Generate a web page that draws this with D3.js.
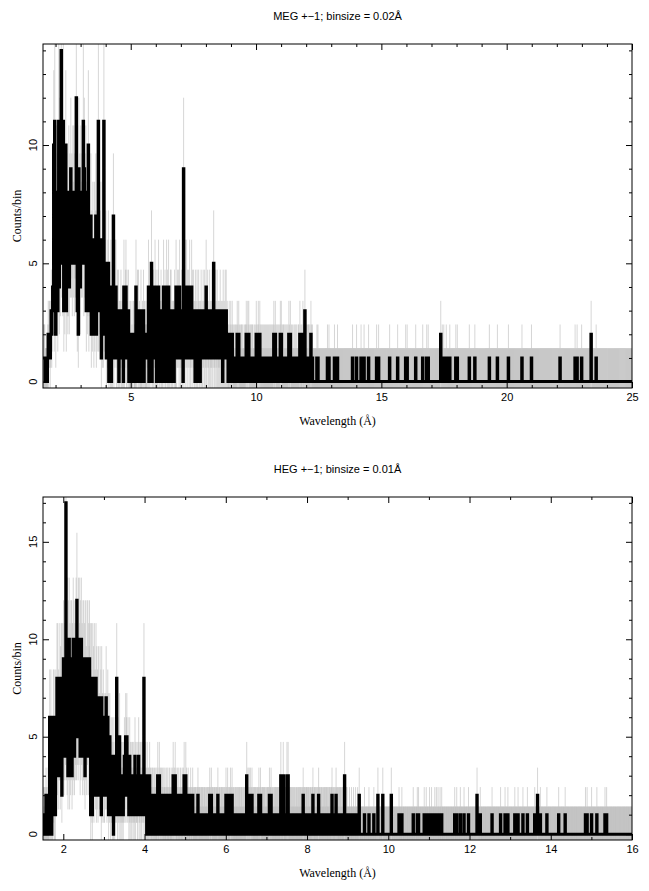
<!DOCTYPE html>
<html><head><meta charset="utf-8">
<script src="https://cdn.jsdelivr.net/npm/d3@7"></script>
<style>body{margin:0;background:#fff}</style>
</head><body><svg id="c" width="649" height="891" xmlns="http://www.w3.org/2000/svg"></svg>
<script>
// ---------------- DATA ----------------
// MEG +-1, bin 0.02 A starting at 1.50 A (counts per bin, dense part up to 12.30 A)
const megStart = 1.5, megBin = 0.02, megEnd = 25;
const megDense = [
1,1,1,1,0, 0,0,0,0,1, 2,1,2,2,1, 2,3,2,3,4, 4,10,3,11,6,
2,8,5,7,3, 6,11,4,9,5, 7,14,6,9,5, 11,3,8,4,6, 10,3,7,5,4,
5,8,4,7,6, 9,6,7,5,8, 6,8,5,7,6, 7,12,6,3,8, 2,9,5,7,4,
8,6,7,6,8, 11,5,9,6,7, 8,3,6,4,5, 10,3,7,5,4, 7,2,5,3,6,
4,2,6,3,5, 7,2,5,4,3, 11,3,6,4,5, 6,1,4,2,3, 2,11,5,3,4,
5,1,3,2,4, 5,0,2,3,1, 4,0,2,1,3, 7,1,3,2,4, 4,1,2,3,1,
3,0,2,1,2, 3,1,2,1,2, 0,4,1,2,3, 4,1,3,2,1, 3,0,1,2,0,
2,0,1,0,2, 2,0,1,1,0, 4,1,2,3,1, 3,0,2,1,0, 3,0,1,2,1,
3,0,2,1,1, 2,1,1,2,1, 4,0,2,1,3, 2,5,0,3,1, 3,1,2,4,1,
3,0,2,1,3, 4,0,2,1,2, 3,1,2,0,2, 4,1,2,3,0, 2,4,1,3,1,
4,0,2,1,3, 3,0,2,1,2, 2,0,3,1,1, 4,1,2,3,2, 3,1,4,2,1,
2,3,1,2,0, 9,2,3,1,4, 2,4,1,3,2, 3,1,4,2,1, 2,4,1,3,2,
3,1,2,0,3, 2,0,3,1,2, 3,1,2,0,2, 3,1,2,1,3, 2,1,3,1,2,
4,1,2,3,1, 2,1,3,1,2, 1,2,3,1,2, 5,1,2,1,3, 2,1,3,1,2,
1,2,1,3,1, 2,1,2,0,3, 1,2,1,3,1, 3,1,2,1,0, 1,2,0,1,2,
1,0,2,1,0, 1,0,1,0,1, 1,0,2,1,0, 2,1,0,1,0, 1,1,0,1,0,
0,1,0,1,1, 2,1,0,2,1, 2,0,1,0,1, 1,0,1,1,0, 0,1,0,1,0,
2,1,0,1,2, 1,0,2,1,0, 1,0,1,0,1, 0,1,0,1,0, 1,0,1,0,1,
0,1,0,1,0, 1,0,1,0,1, 2,0,1,2,0, 1,0,1,0,1, 0,1,0,2,1,
2,0,1,0,1, 1,0,1,0,1, 0,1,0,1,0, 2,1,0,2,0, 1,0,1,0,0,
1,0,1,0,1, 0,1,0,0,1, 1,0,2,0,1, 0,1,0,2,0, 1,0,3,1,0,
1,0,1,0,1, 1,0,1,0,2, 1,0,1,0,0
];
// MEG isolated non-zero bins beyond 12.3 A: [wavelength, counts]
const megSparse = [
[12.42,1],[12.46,1],[12.84,1],[12.90,1],[13.12,1],[13.24,1],[13.84,1],[14.00,1],
[14.18,1],[14.30,1],[14.48,1],[14.80,1],[14.88,1],[15.32,1],[15.64,1],[15.96,1],
[16.02,1],[16.36,1],[16.64,1],[16.80,1],[16.86,1],[17.36,2],[17.42,1],[17.48,1],
[17.58,1],[17.72,1],[17.96,1],[18.02,1],[18.50,1],[18.72,1],[19.30,1],[19.62,1],
[20.06,1],[20.60,1],[20.98,1],[22.12,1],[22.72,1],[22.80,1],[22.98,1],[23.36,2],[23.56,1]
];
// HEG +-1, bin 0.01 A starting at 1.50 A (dense part up to 9.00 A)
const hegStart = 1.5, hegBin = 0.01, hegEnd = 16;
const hegDense = [
1,0,1,0,1,1,0,2,1,0, 1,0,2,1,0,1,6,3,1,6, 2,0,1,3,1,6,2,6,1,4, 1,6,3,5,8,4,8,3,6,5,
5,8,3,7,5,8,2,6,8,5, 9,4,8,5,9,6,17,5,10,4, 10,3,9,5,10,3,8,4,9,5, 9,3,8,4,10,5,9,4,8,5,
6,10,5,12,6,9,5,10,6,8, 10,4,9,5,10,6,8,4,9,5, 9,4,8,3,9,5,7,4,9,6, 9,4,8,7,9,5,8,1,6,8,
2,1,8,3,7,2,8,4,6,3, 8,2,7,3,6,2,7,4,5,3, 7,3,6,1,7,2,5,3,6,2, 5,2,4,3,5,7,3,2,4,6,
5,1,4,2,5,3,1,4,2,3, 4,1,3,0,4,2,1,3,2,4, 2,8,3,1,4,2,3,1,5,2, 3,1,2,3,1,2,3,1,2,3,
4,2,3,5,2,4,5,3,2,4, 3,1,2,4,1,3,2,1,3,2, 3,1,2,3,1,2,4,1,3,2, 2,3,1,2,3,4,1,2,3,1,
3,2,1,3,2,3,1,2,8,3, 1,2,3,1,2,0,3,1,2,1, 2,1,3,0,2,1,2,1,0,2, 1,2,0,1,2,0,1,2,1,0,
2,1,3,0,1,2,3,0,1,2, 1,2,0,1,2,1,0,2,1,1, 2,0,1,1,2,0,1,2,0,1, 1,2,0,1,0,2,1,0,1,2,
3,1,0,2,1,3,1,2,0,1, 1,2,1,0,2,1,0,1,2,1, 0,1,2,1,0,2,1,3,1,0, 1,3,0,2,1,0,1,2,1,0,
1,0,1,2,1,0,1,1,2,0, 1,0,1,1,0,1,1,0,1,0, 1,2,1,0,1,1,0,1,0,1, 1,0,1,1,0,1,0,1,1,0,
1,0,1,0,1,1,0,1,0,1, 2,1,0,1,2,0,1,1,0,1, 0,1,1,0,1,0,1,1,0,1, 2,0,1,0,1,1,0,1,0,1,
1,0,1,1,0,1,0,1,1,0, 2,1,0,1,2,0,1,0,1,1, 0,2,1,0,1,2,0,1,1,0, 1,0,1,0,1,1,0,1,0,1,
1,0,1,1,0,1,0,1,1,0, 1,0,1,0,1,1,0,1,0,1, 1,3,0,1,2,1,0,2,1,0, 2,1,0,1,2,0,1,1,0,1,
1,0,1,1,0,1,0,1,1,0, 1,2,0,1,1,2,0,1,0,1, 1,0,1,1,0,1,1,0,1,0, 1,0,1,1,0,1,1,2,0,1,
1,2,0,1,1,0,1,0,1,1, 0,1,1,0,1,1,0,1,1,0, 1,1,0,1,1,3,1,0,1,1, 1,3,1,0,1,1,0,1,1,0,
3,1,1,3,1,0,1,1,0,1, 1,0,1,1,0,1,0,1,1,0, 1,0,1,0,1,1,0,1,0,1, 1,0,1,1,0,1,0,1,1,0,
2,1,0,1,1,0,1,0,1,1, 1,0,1,1,0,1,0,1,1,0, 1,0,1,1,2,0,1,0,1,1, 0,1,1,0,1,0,1,1,2,0,
1,1,0,1,0,1,1,0,1,0, 1,0,1,1,0,1,0,1,1,0, 1,0,1,0,1,1,0,1,0,1, 1,2,0,1,1,0,1,0,1,1,
0,2,1,0,1,1,0,1,0,1, 1,0,1,1,0,1,0,1,1,0, 1,0,3,1,0,1,1,0,1,0
];
const hegSparse = [
[9.04,1],[9.09,1],[9.14,1],[9.19,1],[9.24,1],[9.28,2],[9.41,1],[9.52,1],[9.64,1],
[9.74,2],[9.86,2],[10.07,2],[10.26,1],[10.33,1],[10.61,1],[10.71,1],[10.74,1],
[10.88,1],[10.93,1],[11.01,1],[11.06,1],[11.14,1],[11.18,1],[11.22,1],[11.27,1],[11.31,1],
[11.63,1],[11.68,1],[11.77,1],[11.86,1],[11.97,1],[12.18,2],[12.26,1],[12.55,1],[12.76,1],
[12.87,1],[12.94,1],[13.11,1],[13.19,1],[13.31,1],[13.42,1],[13.60,1],[13.67,2],[13.74,1],
[13.90,1],[14.19,1],[14.35,1],[14.85,1],[14.89,1],[15.00,1],[15.13,1],[15.33,1],[15.37,1]
];
// axes
const megXMajor = [5,10,15,20,25];
const megXMinor = [2,3,4,6,7,8,9,11,12,13,14,16,17,18,19,21,22,23,24];
const megYMajor = [0,5,10];
const megYMinor = [1,2,3,4,6,7,8,9,11,12,13,14];
const hegXMajor = [2,4,6,8,10,12,14,16];
const hegXMinor = [3,5,7,9,11,13,15];
const hegYMajor = [0,5,10,15];
const hegYMinor = [1,2,3,4,6,7,8,9,11,12,13,14,16,17];

// ---------------- DRAW ----------------
const svg = d3.select('#c');
const SANS = '"Liberation Sans", Arial, Helvetica, sans-serif';
const SERIF = '"Liberation Serif", "Times New Roman", serif';

function buildBins(start, bin, end, dense, sparse) {
  const n = Math.round((end - start) / bin);
  const counts = new Array(n).fill(0);
  dense.forEach((v, i) => { counts[i] = v; });
  sparse.forEach(([w, c]) => { counts[Math.round((w - start) / bin)] = c; });
  return counts.map((c, i) => ({ lo: start + i * bin, hi: start + (i + 1) * bin, c }));
}

function panel(o) {
  const L = 43, R = 632;
  const x = d3.scaleLinear().domain(o.xDomain).range([L, R]);
  const y = d3.scaleLinear().domain(o.yDomain).range([o.bottom, o.top]);
  const g = svg.append('g');
  g.append('clipPath').attr('id', o.id).append('rect')
    .attr('x', L).attr('y', o.top).attr('width', R - L).attr('height', o.bottom - o.top);
  const pg = g.append('g').attr('clip-path', `url(#${o.id})`);
  const err = c => Math.sqrt(Math.max(c, 2));
  pg.selectAll('line.e').data(o.bins).join('line').attr('class', 'e')
    .attr('x1', d => x((d.lo + d.hi) / 2)).attr('x2', d => x((d.lo + d.hi) / 2))
    .attr('y1', d => y(d.c - err(d.c))).attr('y2', d => y(d.c + err(d.c)))
    .attr('stroke', '#bbbbbb').attr('stroke-width', 0.6);
  const pts = o.bins.map(d => [d.lo, d.c]);
  const last = o.bins[o.bins.length - 1];
  pts.push([last.hi, last.c]);
  const line = d3.line().x(d => x(d[0])).y(d => y(d[1])).curve(d3.curveStepAfter);
  pg.append('path').attr('d', line(pts)).attr('fill', 'none')
    .attr('stroke', '#000').attr('stroke-width', 3).attr('stroke-linejoin', 'miter');

  // axes with inward ticks
  const mk = (gen, tr, vals, size, labels) => {
    const a = g.append('g').attr('transform', tr)
      .call(gen.tickValues(vals).tickSize(size).tickPadding(5)
        .tickFormat(labels ? d3.format('d') : ''));
    a.select('.domain').remove();
    a.selectAll('line').attr('stroke', '#000');
    a.attr('font-family', SANS).attr('font-size', 11);
    a.selectAll('text').attr('fill', '#000');
    return a;
  };
  mk(d3.axisBottom(x), `translate(0,${o.bottom})`, o.xMajor, -6, true);
  mk(d3.axisBottom(x), `translate(0,${o.bottom})`, o.xMinor, -3, false);
  mk(d3.axisTop(x), `translate(0,${o.top})`, o.xMajor, -6, false);
  mk(d3.axisTop(x), `translate(0,${o.top})`, o.xMinor, -3, false);
  mk(d3.axisLeft(y), `translate(${L},0)`, o.yMajor, -6, false);
  mk(d3.axisLeft(y), `translate(${L},0)`, o.yMinor, -3, false);
  mk(d3.axisRight(y), `translate(${R},0)`, o.yMajor, -6, false);
  mk(d3.axisRight(y), `translate(${R},0)`, o.yMinor, -3, false);
  // rotated y tick labels
  g.selectAll('text.yl').data(o.yMajor).join('text').attr('class', 'yl')
    .attr('transform', d => `translate(37,${y(d)}) rotate(-90)`)
    .attr('text-anchor', 'middle').attr('font-family', SANS).attr('font-size', 11)
    .text(d => d);
  g.append('rect').attr('x', L).attr('y', o.top).attr('width', R - L)
    .attr('height', o.bottom - o.top).attr('fill', 'none').attr('stroke', '#000').attr('stroke-width', 1);
  // titles
  g.append('text').attr('x', (L + R) / 2).attr('y', o.top - 24).attr('text-anchor', 'middle')
    .attr('font-family', SANS).attr('font-size', 11).text(o.title);
  g.append('text').attr('x', (L + R) / 2).attr('y', o.bottom + 37).attr('text-anchor', 'middle')
    .attr('font-family', SERIF).attr('font-size', 12).text('Wavelength (Å)');
  g.append('text').attr('transform', `translate(21,${(o.top + o.bottom) / 2}) rotate(-90)`)
    .attr('text-anchor', 'middle').attr('font-family', SERIF).attr('font-size', 12).text('Counts/bin');
}

panel({
  id: 'clipMeg', top: 44, bottom: 388,
  xDomain: [1.5, 25], yDomain: [-0.27, 14.27],
  bins: buildBins(megStart, megBin, megEnd, megDense, megSparse),
  xMajor: megXMajor, xMinor: megXMinor, yMajor: megYMajor, yMinor: megYMinor,
  title: 'MEG +\u22121; binsize = 0.02\u00C5'
});
panel({
  id: 'clipHeg', top: 497, bottom: 840,
  xDomain: [1.5, 16], yDomain: [-0.3, 17.3],
  bins: buildBins(hegStart, hegBin, hegEnd, hegDense, hegSparse),
  xMajor: hegXMajor, xMinor: hegXMinor, yMajor: hegYMajor, yMinor: hegYMinor,
  title: 'HEG +\u22121; binsize = 0.01\u00C5'
});
</script>
</body></html>
